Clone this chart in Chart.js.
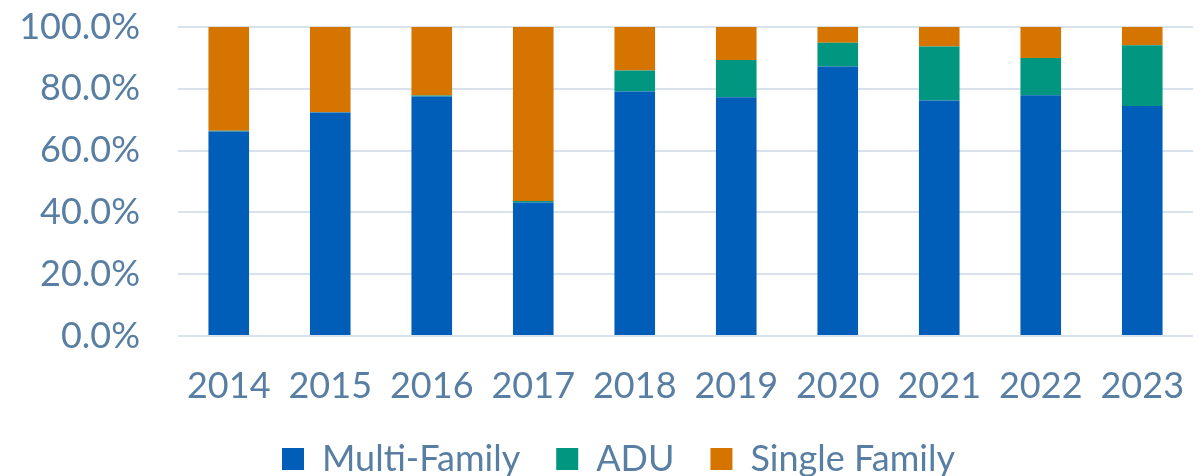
<!DOCTYPE html>
<html>
<head>
<meta charset="utf-8">
<script src="https://cdn.jsdelivr.net/npm/chart.js@4"></script>
<style>
  html, body { margin: 0; padding: 0; background: #ffffff; }
  #wrap { width: 1199px; height: 476px; position: relative; }
</style>
</head>
<body>
<div id="wrap"><canvas id="c" width="1199" height="476"></canvas></div>
<script>
const categories = ['2014','2015','2016','2017','2018','2019','2020','2021','2022','2023'];
const multiFamily = [66.2, 72.3, 77.5, 43.2, 79.1, 77.3, 87.2, 76.2, 77.9, 74.4];
const adu         = [0.2, 0.1, 0.3, 0.5, 6.8, 12.0, 7.7, 17.5, 12.1, 19.7];
const singleFamily= [33.6, 27.6, 22.2, 56.3, 14.1, 10.7, 5.1, 6.3, 10.0, 5.9];
const yTicks = [0, 20, 40, 60, 80, 100];

const textColor = '#587ea3';
const fontFamily = 'Lato, "Open Sans", sans-serif';

const legendShift = {
  id: 'legendShift',
  afterLayout(chart) {
    if (chart.legend) { chart.legend.left += 22; chart.legend.right += 22; }
  }
};

new Chart(document.getElementById('c'), {
  type: 'bar',
  data: {
    labels: categories,
    datasets: [
      { label: 'Multi-Family', data: multiFamily, backgroundColor: '#005eb8' },
      { label: 'ADU', data: adu, backgroundColor: '#00967f' },
      { label: 'Single Family', data: singleFamily, backgroundColor: '#d57500' }
    ]
  },
  plugins: [legendShift],
  options: {
    responsive: false,
    animation: false,
    devicePixelRatio: 1,
    categoryPercentage: 1,
    barPercentage: 0.4,
    layout: { padding: { top: 27, right: 6, bottom: -11, left: 0 } },
    plugins: {
      tooltip: { enabled: false },
      legend: {
        position: 'bottom',
        labels: {
          boxWidth: 22,
          boxHeight: 22,
          padding: 36,
          color: textColor,
          font: { family: fontFamily, size: 36 }
        }
      }
    },
    scales: {
      x: {
        stacked: true,
        grid: { display: false },
        border: { display: false },
        ticks: { color: textColor, font: { family: fontFamily, size: 36 }, padding: 21, maxRotation: 0 },
        afterFit: (s) => { s.height = 69; s.paddingLeft = 0; s.paddingRight = 0; }
      },
      y: {
        stacked: true,
        min: 0,
        max: 100,
        afterBuildTicks: (s) => { s.ticks = yTicks.map(v => ({ value: v })); },
        grid: { color: '#d9e2ec', lineWidth: 2, drawTicks: false },
        border: { display: false },
        ticks: {
          color: textColor,
          font: { family: fontFamily, size: 36 },
          padding: 38,
          callback: (v) => v.toFixed(1) + '%'
        },
        afterFit: (s) => { s.width = 178; s.paddingTop = 0; s.paddingBottom = 0; }
      }
    }
  }
});
</script>
</body>
</html>
